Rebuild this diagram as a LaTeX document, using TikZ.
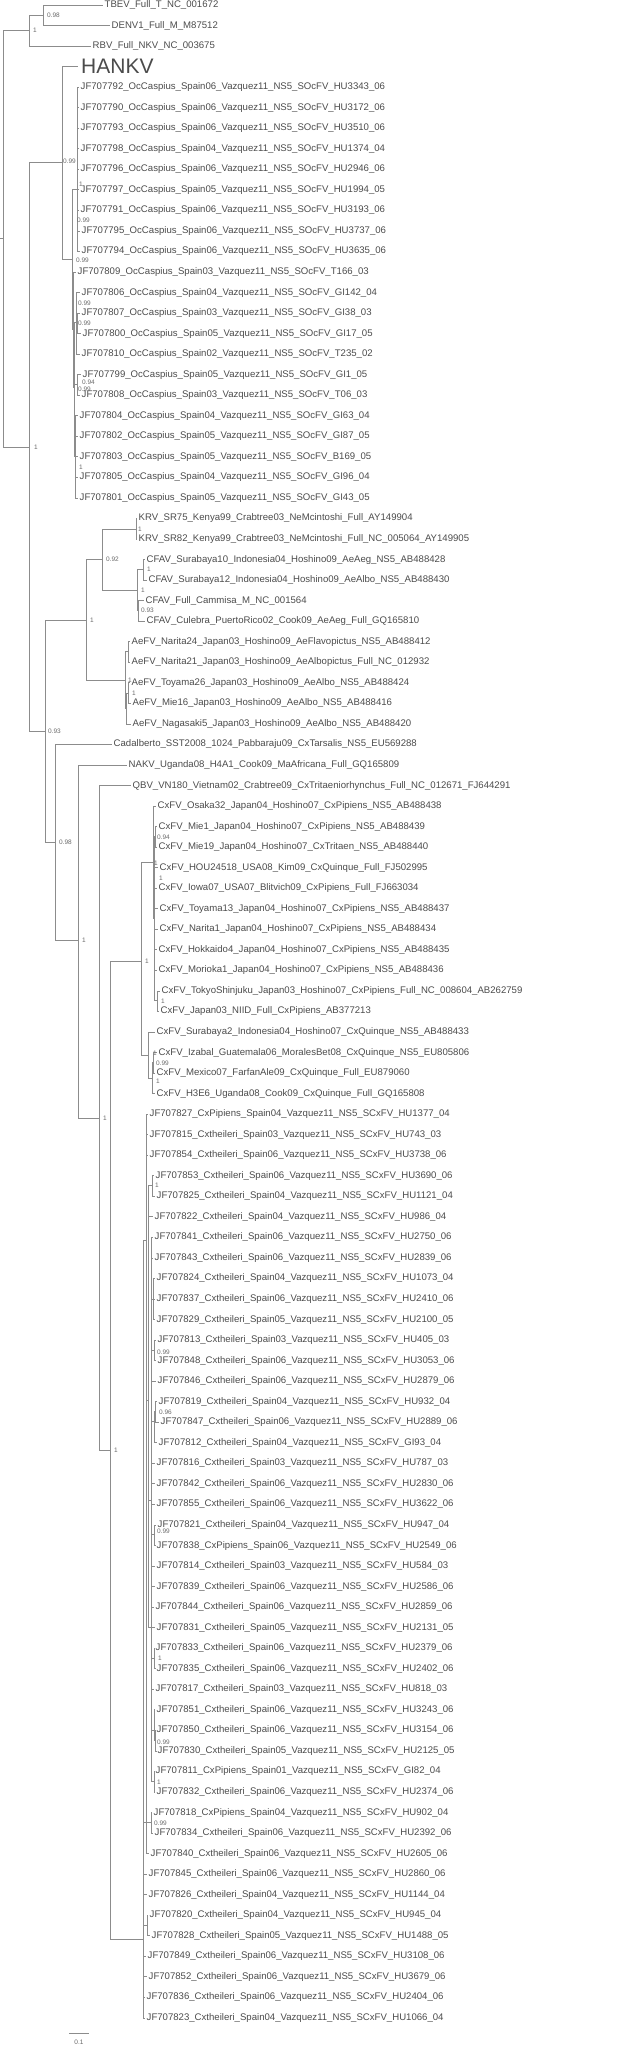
\documentclass[tikz,border=0pt]{standalone}
\usepackage{fontspec}
\setmainfont{Liberation Sans}
\definecolor{branchgrey}{RGB}{140,140,140}
\definecolor{leafgrey}{RGB}{75,75,75}
\definecolor{supportgrey}{RGB}{105,105,105}
\tikzset{
  branch/.style={draw=branchgrey, line width=0.8pt},
  taxon/.style={anchor=west, inner xsep=1.5pt, inner ysep=0pt, text=leafgrey, font=\fontsize{9.6}{10}\selectfont},
  support/.style={anchor=west, inner sep=0pt, text=supportgrey, font=\fontsize{6.5}{7}\selectfont},
}
\begin{document}
\catcode`\_=12
\begin{tikzpicture}[x=1pt, y=-1pt]
  \useasboundingbox (0,0) rectangle (625,2046);
  % taxa, one row every 20.54
  \foreach \i/\xx/\lbl in {1/103/TBEV_Full_T_NC_001672, 2/110/DENV1_Full_M_M87512, 3/91/RBV_Full_NKV_NC_003675,
    5/79/JF707792_OcCaspius_Spain06_Vazquez11_NS5_SOcFV_HU3343_06, 6/79/JF707790_OcCaspius_Spain06_Vazquez11_NS5_SOcFV_HU3172_06,
    7/79/JF707793_OcCaspius_Spain06_Vazquez11_NS5_SOcFV_HU3510_06, 8/79/JF707798_OcCaspius_Spain04_Vazquez11_NS5_SOcFV_HU1374_04,
    9/79/JF707796_OcCaspius_Spain06_Vazquez11_NS5_SOcFV_HU2946_06, 10/79/JF707797_OcCaspius_Spain05_Vazquez11_NS5_SOcFV_HU1994_05,
    11/79/JF707791_OcCaspius_Spain06_Vazquez11_NS5_SOcFV_HU3193_06, 12/80/JF707795_OcCaspius_Spain06_Vazquez11_NS5_SOcFV_HU3737_06,
    13/80/JF707794_OcCaspius_Spain06_Vazquez11_NS5_SOcFV_HU3635_06, 14/76/JF707809_OcCaspius_Spain03_Vazquez11_NS5_SOcFV_T166_03,
    15/80/JF707806_OcCaspius_Spain04_Vazquez11_NS5_SOcFV_GI142_04, 16/80/JF707807_OcCaspius_Spain03_Vazquez11_NS5_SOcFV_GI38_03,
    17/81/JF707800_OcCaspius_Spain05_Vazquez11_NS5_SOcFV_GI17_05, 18/80/JF707810_OcCaspius_Spain02_Vazquez11_NS5_SOcFV_T235_02,
    19/81/JF707799_OcCaspius_Spain05_Vazquez11_NS5_SOcFV_GI1_05, 20/80/JF707808_OcCaspius_Spain03_Vazquez11_NS5_SOcFV_T06_03,
    21/78/JF707804_OcCaspius_Spain04_Vazquez11_NS5_SOcFV_GI63_04, 22/78/JF707802_OcCaspius_Spain05_Vazquez11_NS5_SOcFV_GI87_05,
    23/78/JF707803_OcCaspius_Spain05_Vazquez11_NS5_SOcFV_B169_05, 24/78/JF707805_OcCaspius_Spain04_Vazquez11_NS5_SOcFV_GI96_04,
    25/78/JF707801_OcCaspius_Spain05_Vazquez11_NS5_SOcFV_GI43_05,
    26/137/KRV_SR75_Kenya99_Crabtree03_NeMcintoshi_Full_AY149904, 27/137/KRV_SR82_Kenya99_Crabtree03_NeMcintoshi_Full_NC_005064_AY149905,
    28/145/CFAV_Surabaya10_Indonesia04_Hoshino09_AeAeg_NS5_AB488428, 29/147/CFAV_Surabaya12_Indonesia04_Hoshino09_AeAlbo_NS5_AB488430,
    30/144/CFAV_Full_Cammisa_M_NC_001564, 31/145/CFAV_Culebra_PuertoRico02_Cook09_AeAeg_Full_GQ165810,
    32/130/AeFV_Narita24_Japan03_Hoshino09_AeFlavopictus_NS5_AB488412, 33/130/AeFV_Narita21_Japan03_Hoshino09_AeAlbopictus_Full_NC_012932,
    34/130/AeFV_Toyama26_Japan03_Hoshino09_AeAlbo_NS5_AB488424, 35/131/AeFV_Mie16_Japan03_Hoshino09_AeAlbo_NS5_AB488416,
    36/131/AeFV_Nagasaki5_Japan03_Hoshino09_AeAlbo_NS5_AB488420,
    37/112/Cadalberto_SST2008_1024_Pabbaraju09_CxTarsalis_NS5_EU569288, 38/127/NAKV_Uganda08_H4A1_Cook09_MaAfricana_Full_GQ165809,
    39/131/QBV_VN180_Vietnam02_Crabtree09_CxTritaeniorhynchus_Full_NC_012671_FJ644291,
    40/156/CxFV_Osaka32_Japan04_Hoshino07_CxPipiens_NS5_AB488438, 41/157/CxFV_Mie1_Japan04_Hoshino07_CxPipiens_NS5_AB488439,
    42/157/CxFV_Mie19_Japan04_Hoshino07_CxTritaen_NS5_AB488440, 43/158/CxFV_HOU24518_USA08_Kim09_CxQuinque_Full_FJ502995,
    44/157/CxFV_Iowa07_USA07_Blitvich09_CxPipiens_Full_FJ663034, 45/158/CxFV_Toyama13_Japan04_Hoshino07_CxPipiens_NS5_AB488437,
    46/158/CxFV_Narita1_Japan04_Hoshino07_CxPipiens_NS5_AB488434, 47/157/CxFV_Hokkaido4_Japan04_Hoshino07_CxPipiens_NS5_AB488435,
    48/157/CxFV_Morioka1_Japan04_Hoshino07_CxPipiens_NS5_AB488436, 49/160/CxFV_TokyoShinjuku_Japan03_Hoshino07_CxPipiens_Full_NC_008604_AB262759,
    50/159/CxFV_Japan03_NIID_Full_CxPipiens_AB377213, 51/155/CxFV_Surabaya2_Indonesia04_Hoshino07_CxQuinque_NS5_AB488433,
    52/157/CxFV_Izabal_Guatemala06_MoralesBet08_CxQuinque_NS5_EU805806, 53/155/CxFV_Mexico07_FarfanAle09_CxQuinque_Full_EU879060,
    54/155/CxFV_H3E6_Uganda08_Cook09_CxQuinque_Full_GQ165808,
    55/148/JF707827_CxPipiens_Spain04_Vazquez11_NS5_SCxFV_HU1377_04, 56/148/JF707815_Cxtheileri_Spain03_Vazquez11_NS5_SCxFV_HU743_03,
    57/148/JF707854_Cxtheileri_Spain06_Vazquez11_NS5_SCxFV_HU3738_06, 58/154/JF707853_Cxtheileri_Spain06_Vazquez11_NS5_SCxFV_HU3690_06,
    59/155/JF707825_Cxtheileri_Spain04_Vazquez11_NS5_SCxFV_HU1121_04, 60/153/JF707822_Cxtheileri_Spain04_Vazquez11_NS5_SCxFV_HU986_04,
    61/153/JF707841_Cxtheileri_Spain06_Vazquez11_NS5_SCxFV_HU2750_06, 62/153/JF707843_Cxtheileri_Spain06_Vazquez11_NS5_SCxFV_HU2839_06,
    63/155/JF707824_Cxtheileri_Spain04_Vazquez11_NS5_SCxFV_HU1073_04, 64/155/JF707837_Cxtheileri_Spain06_Vazquez11_NS5_SCxFV_HU2410_06,
    65/155/JF707829_Cxtheileri_Spain05_Vazquez11_NS5_SCxFV_HU2100_05, 66/156/JF707813_Cxtheileri_Spain03_Vazquez11_NS5_SCxFV_HU405_03,
    67/156/JF707848_Cxtheileri_Spain06_Vazquez11_NS5_SCxFV_HU3053_06, 68/156/JF707846_Cxtheileri_Spain06_Vazquez11_NS5_SCxFV_HU2879_06,
    69/157/JF707819_Cxtheileri_Spain04_Vazquez11_NS5_SCxFV_HU932_04, 70/159/JF707847_Cxtheileri_Spain06_Vazquez11_NS5_SCxFV_HU2889_06,
    71/157/JF707812_Cxtheileri_Spain04_Vazquez11_NS5_SCxFV_GI93_04, 72/155/JF707816_Cxtheileri_Spain03_Vazquez11_NS5_SCxFV_HU787_03,
    73/155/JF707842_Cxtheileri_Spain06_Vazquez11_NS5_SCxFV_HU2830_06, 74/155/JF707855_Cxtheileri_Spain06_Vazquez11_NS5_SCxFV_HU3622_06,
    75/156/JF707821_Cxtheileri_Spain04_Vazquez11_NS5_SCxFV_HU947_04, 76/155/JF707838_CxPipiens_Spain06_Vazquez11_NS5_SCxFV_HU2549_06,
    77/155/JF707814_Cxtheileri_Spain03_Vazquez11_NS5_SCxFV_HU584_03, 78/155/JF707839_Cxtheileri_Spain06_Vazquez11_NS5_SCxFV_HU2586_06,
    79/154/JF707844_Cxtheileri_Spain06_Vazquez11_NS5_SCxFV_HU2859_06, 80/155/JF707831_Cxtheileri_Spain05_Vazquez11_NS5_SCxFV_HU2131_05,
    81/154/JF707833_Cxtheileri_Spain06_Vazquez11_NS5_SCxFV_HU2379_06, 82/155/JF707835_Cxtheileri_Spain06_Vazquez11_NS5_SCxFV_HU2402_06,
    83/154/JF707817_Cxtheileri_Spain03_Vazquez11_NS5_SCxFV_HU818_03, 84/155/JF707851_Cxtheileri_Spain06_Vazquez11_NS5_SCxFV_HU3243_06,
    85/155/JF707850_Cxtheileri_Spain06_Vazquez11_NS5_SCxFV_HU3154_06, 86/156/JF707830_Cxtheileri_Spain05_Vazquez11_NS5_SCxFV_HU2125_05,
    87/154/JF707811_CxPipiens_Spain01_Vazquez11_NS5_SCxFV_GI82_04, 88/155/JF707832_Cxtheileri_Spain06_Vazquez11_NS5_SCxFV_HU2374_06,
    89/152/JF707818_CxPipiens_Spain04_Vazquez11_NS5_SCxFV_HU902_04, 90/153/JF707834_Cxtheileri_Spain06_Vazquez11_NS5_SCxFV_HU2392_06,
    91/149/JF707840_Cxtheileri_Spain06_Vazquez11_NS5_SCxFV_HU2605_06, 92/147/JF707845_Cxtheileri_Spain06_Vazquez11_NS5_SCxFV_HU2860_06,
    93/147/JF707826_Cxtheileri_Spain04_Vazquez11_NS5_SCxFV_HU1144_04, 94/148/JF707820_Cxtheileri_Spain04_Vazquez11_NS5_SCxFV_HU945_04,
    95/150/JF707828_Cxtheileri_Spain05_Vazquez11_NS5_SCxFV_HU1488_05, 96/146/JF707849_Cxtheileri_Spain06_Vazquez11_NS5_SCxFV_HU3108_06,
    97/147/JF707852_Cxtheileri_Spain06_Vazquez11_NS5_SCxFV_HU3679_06, 98/145/JF707836_Cxtheileri_Spain06_Vazquez11_NS5_SCxFV_HU2404_06,
    99/145/JF707823_Cxtheileri_Spain04_Vazquez11_NS5_SCxFV_HU1066_04}
    \node[taxon] (t\i) at (\xx,{5+20.54*(\i-1)}) {\lbl};
  \node[taxon, inner xsep=3pt, font=\fontsize{21}{22}\selectfont] (t4) at (78,66.6) {HANKV};

  % internal nodes
  \foreach \n/\xx/\yy in {root/3/238, n1/29/30, n2/43/15, nA/29/447, nU/62/162, nV/72/259, nW/77/189,
    nX/73/329, nY/74/387, nZ1/76/322, nZa/77/322.5, nZb/77/384.5, nZ2/75/456,
    nB/45/731, nC/86/620, nD/102/559, nK/136/529, nE/137/590, nF/143/569.5, nG/138/610.5,
    nH/125/680, nJ1/128/651.5, nJ2/126/708.5, nJk/128/693,
    nL/55/842, nM/78/940, nN/99/1118, nO/110/1450, nQ/141/961, nS/153/862, nS1/154/918,
    nS2/155/836.5, nS4/157/1000.5, nR/148/1055, nR1/152/1078, nR2/153/1062.5,
    nP/143/1939, nP1/146/1240, nP2/148/1400, nP3/152/1185.5, nP4/151.5/1500, nP5/153.5/1299,
    nP6/154/1350, nP7/154.5/1421.5, nP7a/155.5/1411.5, nP8/154.5/1534.5, nPc/154.5/1658,
    nPd/154/1730.5, nPe/155.5/1740.5, nPf/154/1781.5, nPg/151/1822.5, nP9/147/1925.5}
    \coordinate (\n) at (\xx,\yy);
  \coordinate (stub) at (0,238);

  % branches
  \draw[branch] (stub) -- (root);
  \foreach \p/\c in {root/n1, root/nA, n1/n2, n1/t3, n2/t1, n2/t2, nA/nU, nA/nB, nU/t4, nU/nV,
    nV/nW, nV/nX, nX/t14, nX/nY, nY/nZ1, nY/nZb, nY/nZ2, nZ1/t15, nZ1/nZa, nZ1/t18, nZa/t16, nZa/t17,
    nZb/t19, nZb/t20, nB/nC, nB/nL, nC/nD, nC/nH, nD/nK, nD/nE, nK/t26, nK/t27, nE/nF, nE/nG,
    nF/t28, nF/t29, nG/t30, nG/t31, nH/nJ1, nH/nJ2, nJ1/t32, nJ1/t33, nJ2/nJk, nJ2/t36, nJk/t34, nJk/t35,
    nL/t37, nL/nM, nM/t38, nM/nN, nN/t39, nN/nO, nO/nQ, nO/nP, nQ/nS, nQ/nR, nS/t40, nS/nS1,
    nS1/nS2, nS1/nS4, nS2/t41, nS2/t42, nS4/t49, nS4/t50, nR/t51, nR/nR1, nR1/nR2, nR1/t54, nR2/t52, nR2/t53,
    nP/nP1, nP/nPg, nP/t92, nP/t93, nP/nP9, nP/t96, nP/t97, nP/t98, nP/t99, nP9/t94, nP9/t95,
    nP1/t55, nP1/t56, nP1/t57, nP1/nP2, nP1/t91, nP2/nP3, nP2/t60, nP2/nP4, nP2/t80, nP3/t58, nP3/t59,
    nP4/t61, nP4/t62, nP4/nP5, nP4/nP6, nP4/t68, nP4/nP7, nP4/t72, nP4/t73, nP4/t74, nP4/nP8,
    nP4/t77, nP4/t78, nP4/t79, nP4/nPc, nP4/t83, nP4/nPd, nP4/nPf,
    nP5/t63, nP5/t64, nP5/t65, nP6/t66, nP6/t67, nP7/nP7a, nP7/t71, nP7a/t69, nP7a/t70, nP8/t75, nP8/t76,
    nPc/t81, nPc/t82, nPd/t84, nPd/nPe, nPe/t85, nPe/t86, nPf/t87, nPf/t88, nPg/t89, nPg/t90}
    \draw[branch] (\p) |- (\c);
  \foreach \i in {5,...,13} \draw[branch] (nW) |- (t\i);
  \foreach \i in {21,...,25} \draw[branch] (nZ2) |- (t\i);
  \foreach \i in {43,...,48} \draw[branch] (nS1) |- (t\i);

  % posterior support
  \foreach \k/\xx/\yy/\v in {1/33/30/1, 2/47/15/0.98, 3/34/447/1, 4/63/161/0.99, 5/76/260/0.99, 6/79/184/1,
    7/77/220/0.99, 8/78/303/0.99, 9/78/323/0.99, 10/82/382/0.94, 11/78/389/0.99, 12/79/467/1,
    13/90/620/1, 14/106/559/0.92, 15/138/529/1, 16/141/590/1, 17/147/569/1, 18/141/610/0.93,
    19/128/680/1, 20/132/693/1, 21/48/731/0.93, 22/59/842/0.98, 23/82/940/1, 24/103/1118/1,
    25/114/1450/1, 26/145/961/1, 27/157/837/0.94, 28/154/863/1, 29/159/878/1, 30/161/1001/1,
    31/153/1053/1, 32/156/1063/0.99, 33/156/1081/1, 34/155/1185/1, 35/157/1352/0.99, 36/159/1412/0.96,
    37/157/1531/0.99, 38/158/1658/1, 39/157/1742/0.99, 40/157/1782/1, 41/154/1823/0.99}
    \node[support] (s\k) at (\xx,\yy) {\v};

  % scale bar
  \coordinate (bar0) at (69,2033);
  \coordinate (bar1) at (89,2033);
  \draw[branch] (bar0) -- (bar1);
  \node[support, anchor=center] (barlabel) at (79,2042) {0.1};
\end{tikzpicture}
\end{document}
